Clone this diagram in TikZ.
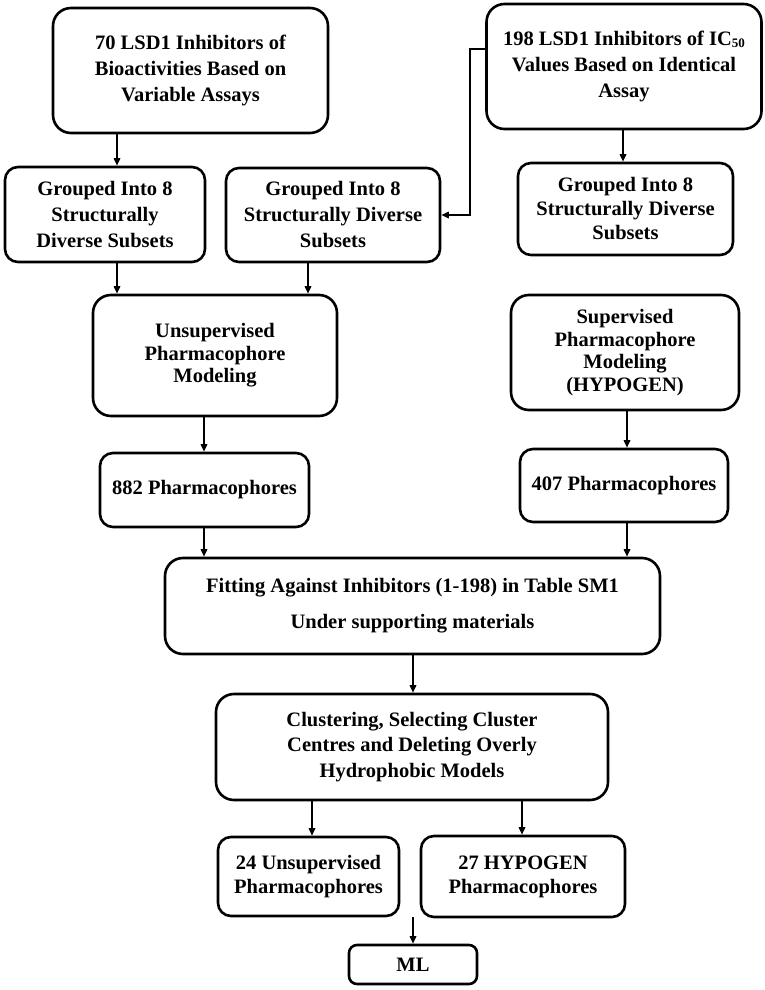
\documentclass[tikz,border=0pt]{standalone}
\usepackage{fontspec}
\setmainfont{Liberation Serif}
\usetikzlibrary{arrows.meta}
\begin{document}
\begin{tikzpicture}[x=1pt,y=-1pt,
  box/.style={draw, line width=2.6pt, rounded corners=18pt, align=center, inner sep=2pt,
    font=\fontsize{20.5}{26}\selectfont\bfseries},
  smallbox/.style={box, rounded corners=13pt},
  lead/.style={font=\fontsize{20.5}{#1}\selectfont\bfseries},
  arr/.style={line width=1.6pt, -{Triangle[length=7.5pt,width=6.5pt]}}]
\useasboundingbox (0,0) rectangle (764,990);

\node[box, minimum width=275pt, minimum height=125pt] (A) at (190.5,70.5)
  {70 LSD1 Inhibitors of\\Bioactivities Based on\\Variable Assays};
\node[box, minimum width=275pt, minimum height=125pt] (B) at (624,66.5)
  {198 LSD1 Inhibitors of IC\raisebox{-0.25ex}{\fontsize{13}{13}\selectfont 50}\\Values Based on Identical\\Assay};

\node[smallbox, minimum width=200pt, minimum height=95pt] (G1) at (105,214.5)
  {Grouped Into 8\\Structurally\\Diverse Subsets};
\node[smallbox, minimum width=214pt, minimum height=94pt] (G2) at (333,215)
  {Grouped Into 8\\Structurally Diverse\\Subsets};
\node[smallbox, lead=24, minimum width=215pt, minimum height=92pt] (G3) at (625.5,209)
  {Grouped Into 8\\Structurally Diverse\\Subsets};

\node[box, lead=22.5, minimum width=244pt, minimum height=121pt] (U) at (215,355.5)
  {Unsupervised\\Pharmacophore\\Modeling};
\node[box, lead=22.5, minimum width=228pt, minimum height=115pt] (S) at (625,352.5)
  {Supervised\\Pharmacophore\\Modeling\\(HYPOGEN)};

\node[smallbox, minimum width=209pt, minimum height=74pt] (P1) at (204.5,490)
  {882 Pharmacophores};
\node[smallbox, minimum width=208pt, minimum height=73pt] (P2) at (624,485.5)
  {407 Pharmacophores};

\node[box, lead=36, minimum width=495pt, minimum height=96pt] (F) at (412.5,606)
  {Fitting Against Inhibitors (1-198) in Table SM1\\Under supporting materials};

\node[box, lead=25.5, minimum width=392pt, minimum height=106pt] (C) at (412,747)
  {Clustering, Selecting Cluster\\Centres and Deleting Overly\\Hydrophobic Models};

\node[smallbox, lead=24, minimum width=181pt, minimum height=79pt] (U24) at (308.5,876.5)
  {24 Unsupervised\\Pharmacophores};
\node[smallbox, lead=24, minimum width=204pt, minimum height=81pt] (H27) at (523,876.5)
  {27 HYPOGEN\\Pharmacophores};

\node[box, rounded corners=8pt, minimum width=128pt, minimum height=39pt] (ML) at (413,964.5)
  {ML};

% connectors
\draw[arr] (A.south -| 117,0) -- (G1.north -| 117,0);
\draw[arr] (B.south -| 623,0) -- (G3.north -| 623,0);
\draw[arr] (B.west |- 0,49) -- ++(-15,0) |- (G2.east);
\draw[arr] (G1.south -| 117,0) -- (U.north -| 117,0);
\draw[arr] (G2.south -| 308,0) -- (U.north -| 308,0);
\draw[arr] (U.south -| 204,0) -- (P1.north -| 204,0);
\draw[arr] (S.south -| 627,0) -- (P2.north -| 627,0);
\draw[arr] (P1.south -| 204,0) -- (F.north -| 204,0);
\draw[arr] (P2.south -| 627,0) -- (F.north -| 627,0);
\draw[arr] (F.south -| 413,0) -- (C.north -| 413,0);
\draw[arr] (C.south -| 312,0) -- (U24.north -| 312,0);
\draw[arr] (C.south -| 522,0) -- (H27.north -| 522,0);
\draw[arr] (U24.south -| ML.north) -- (ML.north);
\end{tikzpicture}
\end{document}
